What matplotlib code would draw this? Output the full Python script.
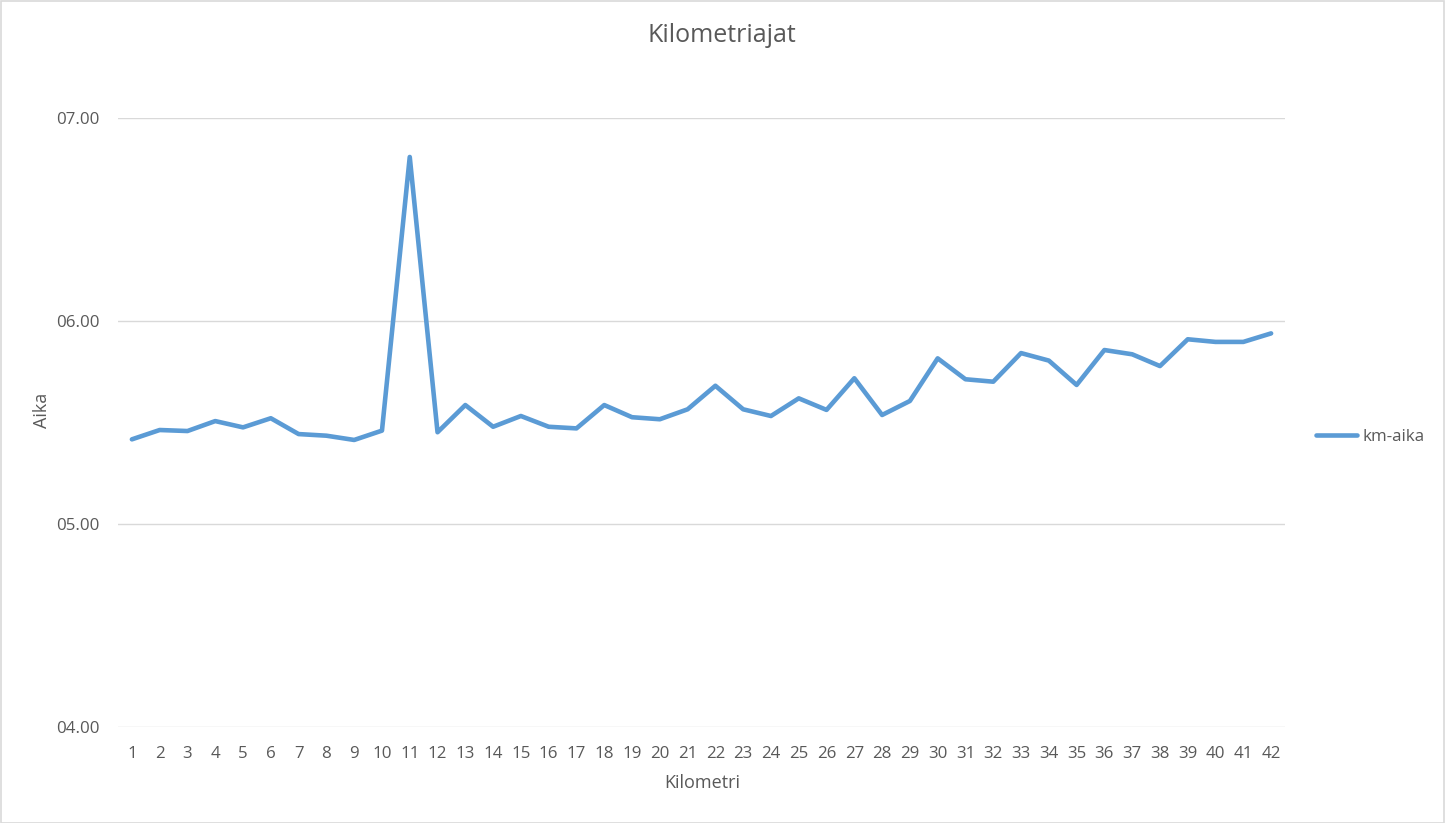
import matplotlib
matplotlib.use("Agg")
import matplotlib.pyplot as plt
from matplotlib.ticker import FuncFormatter, FixedLocator
from matplotlib.patches import Rectangle

km = list(range(1, 43))
km_aika = [5.417, 5.463, 5.458, 5.507, 5.476, 5.521, 5.443, 5.435, 5.414, 5.460,
           6.808, 5.452, 5.586, 5.479, 5.532, 5.479, 5.471, 5.586, 5.526, 5.516,
           5.565, 5.681, 5.565, 5.532, 5.619, 5.562, 5.718, 5.537, 5.606, 5.816,
           5.713, 5.701, 5.842, 5.805, 5.685, 5.857, 5.836, 5.778, 5.910, 5.897,
           5.897, 5.939]
y_ticks = [4, 5, 6, 7]

plt.rcParams['font.family'] = ['Open Sans', 'DejaVu Sans']
txt = '#595959'

fig = plt.figure(figsize=(14.45, 8.23), dpi=100)
W, H = 1445, 823
ax = fig.add_axes([118 / W, 1 - 727 / H, (1285 - 118) / W, (727 - 118) / H])

line, = ax.plot(km, km_aika, color='#5B9BD5', lw=3.3, solid_joinstyle='round',
                solid_capstyle='round', label='km-aika', zorder=3)

ax.set_xlim(0.5, 42.5)
ax.set_ylim(4, 7)
ax.yaxis.set_major_locator(FixedLocator(y_ticks))
ax.yaxis.set_major_formatter(FuncFormatter(lambda v, p: f"{v:05.2f}"))
ax.set_xticks(km)
ax.set_xticklabels([str(k) for k in km])
ax.grid(axis='y', color='#D9D9D9', lw=1.0, zorder=0)
for s in ax.spines.values():
    s.set_visible(False)
ax.tick_params(axis='both', length=0, labelsize=12.2, colors=txt)
ax.tick_params(axis='y', pad=13)
ax.tick_params(axis='x', pad=14)

ax.set_xlabel('Kilometri', fontsize=13, color=txt)
ax.set_ylabel('Aika', fontsize=13, color=txt)
ax.xaxis.set_label_coords((702 - 118) / (1285 - 118), -(783 - 727) / (727 - 118))
ax.xaxis.label.set_va('center')
ax.yaxis.set_label_coords((42 - 118) / (1285 - 118), (727 - 410) / (727 - 118))
ax.yaxis.label.set_va('center')

fig.text(722 / W, 1 - 36 / H, 'Kilometriajat', ha='center', va='center',
         fontsize=18, color=txt)

fig.legend(handles=[line], loc='center left',
           bbox_to_anchor=(1316 / W, 1 - 437 / H), frameon=False,
           fontsize=12.2, labelcolor=txt, handlelength=2.4, handletextpad=0.35,
           borderaxespad=0, borderpad=0)

fig.patches.append(Rectangle((0.5 / W, 0.5 / H), (W - 1.5) / W, (H - 1.5) / H,
                             transform=fig.transFigure, fill=False,
                             edgecolor='#D9D9D9', lw=1.2))

fig.savefig('out.png', dpi=100, facecolor='white')
